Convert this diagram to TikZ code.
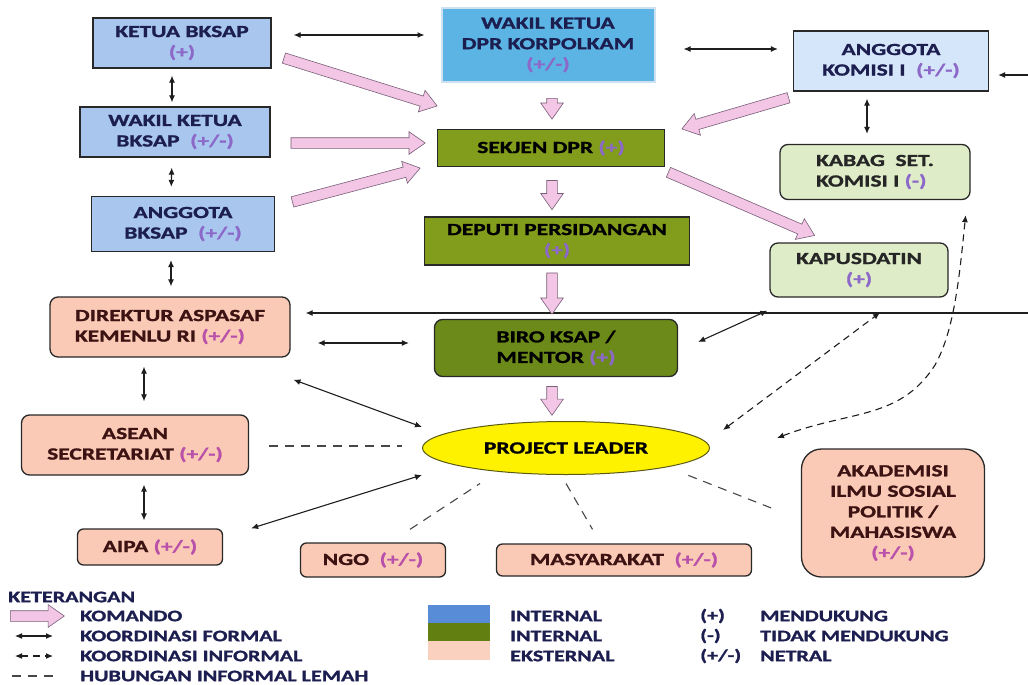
\documentclass[tikz,border=0pt]{standalone}
\usepackage{fontspec}
\setmainfont{Carlito}[FakeStretch=1.38, BoldFeatures={FakeBold=1.3}]
\usetikzlibrary{arrows.meta,shapes.geometric,shapes.arrows,calc}

\definecolor{bksapblue}{RGB}{168,198,238}
\definecolor{dprblue}{RGB}{92,180,228}
\definecolor{komisiblue}{RGB}{214,230,250}
\definecolor{dprolive}{RGB}{130,156,28}
\definecolor{biroolive}{RGB}{108,138,26}
\definecolor{softgreen}{RGB}{222,236,200}
\definecolor{peach}{RGB}{250,202,182}
\definecolor{komandopink}{RGB}{242,198,228}
\definecolor{navytext}{RGB}{28,30,80}
\definecolor{darkbrowntext}{RGB}{60,18,18}
\definecolor{signint}{RGB}{140,105,200}
\definecolor{signext}{RGB}{185,80,170}
\definecolor{legendblue}{RGB}{88,140,215}
\definecolor{legendgreen}{RGB}{98,128,18}
\definecolor{legendpeach}{RGB}{250,208,190}

\newcommand{\sgni}[1]{{\color{signint}#1}}
\newcommand{\sgne}[1]{{\color{signext}#1}}
% fat pink arrow from #1 to #2
\newcommand{\komando}[2]{%
  \path let \p1=(#1), \p2=(#2),
    \n1={atan2(\y2-\y1,\x2-\x1)}, \n2={veclen(\x2-\x1,\y2-\y1)} in
    node[komandoarrow, minimum height=\n2, rotate=\n1, anchor=tail] at (\p1) {};}

\begin{document}
\begin{tikzpicture}[x=1pt, y=-1pt,
  box/.style={draw={rgb,255:red,40;green,40;blue,40}, line width=1.3pt, inner sep=0pt,
    align=center, font=\fontsize{17}{20.5}\selectfont\bfseries},
  roundbox/.style={box, rounded corners=8pt},
  formal/.style={{Latex[length=7pt,width=6pt]}-{Latex[length=7pt,width=6pt]},
    line width=1.1pt, draw={rgb,255:red,30;green,30;blue,30}},
  oneway/.style={-{Latex[length=7pt,width=6pt]},
    line width=1.1pt, draw={rgb,255:red,30;green,30;blue,30}},
  informal/.style={formal, dash pattern=on 7pt off 5pt},
  weak/.style={line width=1.1pt, draw={rgb,255:red,70;green,70;blue,70}, dash pattern=on 9pt off 7pt},
  komandoarrow/.style={single arrow, draw={rgb,255:red,120;green,95;blue,120}, line width=0.6pt,
    fill=komandopink, inner xsep=0pt, inner ysep=5pt, single arrow head extend=6pt,
    single arrow tip angle=70},
  legendtext/.style={anchor=west, inner sep=0pt, font=\fontsize{16}{18}\selectfont\bfseries, text=navytext}]

  \fill[white] (0,0) rectangle (1028,685);
  \useasboundingbox (0,0) rectangle (1028,685);

  % nodes
  \node[box, fill=bksapblue, text=navytext, minimum width=178pt, minimum height=50pt] (ketua) at (182,43) {KETUA BKSAP\\\sgni{(+)}};
  \node[box, fill=bksapblue, text=navytext, minimum width=190pt, minimum height=50pt] (wakil) at (175,132) {WAKIL KETUA\\BKSAP ~\sgni{(+/-)}};
  \node[box, fill=bksapblue, text=navytext, minimum width=183pt, minimum height=55pt] (anggota) at (183,224) {ANGGOTA\\BKSAP ~\sgni{(+/-)}};
  \node[box, fill=dprblue, text=navytext, draw={rgb,255:red,205;green,225;blue,240}, line width=2pt, minimum width=213pt, minimum height=74pt] (wakildpr) at (548,45) {WAKIL KETUA\\DPR KORPOLKAM\\\sgni{(+/-)}};
  \node[box, fill=komisiblue, text=navytext, minimum width=195pt, minimum height=60pt] (komisi) at (891,61) {ANGGOTA\\KOMISI I ~\sgni{(+/-)}};
  \node[box, fill=dprolive, text=black, minimum width=227pt, minimum height=37pt] (sekjen) at (551,148) {SEKJEN DPR \sgni{(+)}};
  \node[roundbox, fill=softgreen, text=black!85, align=left, minimum width=190pt, minimum height=55pt] (kabag) at (875,172) {KABAG~ SET.\\KOMISI I \sgni{(-)}};
  \node[box, fill=dprolive, text=black, minimum width=265pt, minimum height=48pt] (deputi) at (557,241) {DEPUTI PERSIDANGAN\\\sgni{(+)}};
  \node[roundbox, fill=softgreen, text=black!85, minimum width=178pt, minimum height=54pt] (kapusdatin) at (859,270) {KAPUSDATIN\\\sgni{(+)}};
  \node[roundbox, fill=peach, text=darkbrowntext, align=left, minimum width=240pt, minimum height=60pt] (direktur) at (170,327) {DIREKTUR ASPASAF\\KEMENLU RI \sgne{(+/-)}};
  \node[roundbox, fill=biroolive, text=black, align=left, minimum width=243pt, minimum height=57pt] (biro) at (556,348) {BIRO KSAP /\\MENTOR \sgni{(+)}};
  \node[ellipse, draw={rgb,255:red,90;green,90;blue,20}, line width=1pt, fill=yellow, inner sep=0pt,
    minimum width=287pt, minimum height=53pt, font=\fontsize{17}{20.5}\selectfont\bfseries] (leader) at (566,448) {PROJECT LEADER};
  \node[roundbox, fill=peach, text=darkbrowntext, minimum width=227pt, minimum height=60pt] (asean) at (135,445) {ASEAN\\SECRETARIAT \sgne{(+/-)}};
  \node[roundbox, fill=peach, text=darkbrowntext, rounded corners=20pt, minimum width=183pt, minimum height=128pt] (akademisi) at (893,513) {AKADEMISI\\ILMU SOSIAL\\POLITIK /\\MAHASISWA\\\sgne{(+/-)}};
  \node[roundbox, fill=peach, text=darkbrowntext, rounded corners=6pt, minimum width=145pt, minimum height=36pt] (aipa) at (150,547) {AIPA \sgne{(+/-)}};
  \node[roundbox, fill=peach, text=darkbrowntext, rounded corners=6pt, minimum width=145pt, minimum height=34pt] (ngo) at (373,560) {NGO ~\sgne{(+/-)}};
  \node[roundbox, fill=peach, text=darkbrowntext, rounded corners=6pt, minimum width=255pt, minimum height=32pt] (masyarakat) at (624,560) {MASYARAKAT ~\sgne{(+/-)}};

  \coordinate (edgetop) at (1028,75);
  \coordinate (edgemid) at (1028,313);

  % koordinasi formal
  \draw[formal, shorten <=22pt, shorten >=16pt] ([yshift=8pt]ketua.east) -- ([yshift=10pt]wakildpr.west);
  \draw[formal, shorten <=28pt, shorten >=15pt] ([yshift=-4pt]wakildpr.east) -- ([yshift=12pt]komisi.east -| komisi.west);
  \draw[oneway, shorten >=9pt] (edgetop) -- ([yshift=-14pt]komisi.east);
  \draw[oneway, shorten >=15pt] (edgemid) -- ([yshift=14pt]direktur.east);
  \draw[formal, shorten <=7pt, shorten >=4pt] ([xshift=-10pt]ketua.south) -- ([xshift=-3pt]wakil.north);
  \draw[informal, shorten <=10pt, shorten >=9pt] ([xshift=-3pt]wakil.south) -- ([xshift=-12pt]anggota.north);
  \draw[formal, shorten <=8pt, shorten >=10pt] ([xshift=-12pt]anggota.south) -- ([xshift=1pt]direktur.north);
  \draw[formal, shorten <=9pt, shorten >=13pt] ([xshift=-26pt]direktur.south) -- ([xshift=9pt]asean.north);
  \draw[formal, shorten <=9pt, shorten >=8pt] ([xshift=9pt]asean.south) -- ([xshift=-6pt]aipa.north);
  \draw[formal, shorten <=27pt, shorten >=25pt] ([yshift=-16pt]direktur.east) -- ([yshift=5pt]biro.west);
  \draw[formal, shorten <=3pt] ([yshift=-21pt]direktur.south east) -- ([yshift=21pt]leader.west);
  \draw[formal] ([xshift=28pt]aipa.north east) -- ([yshift=-27pt]leader.west);
  \draw[formal, shorten <=7pt, shorten >=10pt] ([xshift=-24pt]komisi.south) -- ([xshift=-8pt]kabag.north);
  \draw[formal] ([xshift=20pt, yshift=6pt]biro.east) -- ([xshift=-2pt, yshift=-13pt]kapusdatin.south west);

  % koordinasi informal
  \draw[informal] ([xshift=13pt, yshift=18pt]leader.east) -- ([xshift=21pt, yshift=-15pt]kapusdatin.south);
  \draw[informal] ([xshift=67pt, yshift=10pt]leader.east) .. controls (850,410) and (900,420) .. (935,365)
    .. controls (955,330) and (960,270) .. ([xshift=-5pt, yshift=-15pt]kabag.south east);

  % hubungan informal lemah
  \draw[weak, shorten <=20pt, shorten >=20pt] ([yshift=-1pt]asean.east) -- ([yshift=2pt]leader.west);
  \draw[weak] ([xshift=37pt, yshift=13pt]ngo.north) -- ([xshift=-86pt, yshift=-8.5pt]leader.south);
  \draw[weak] ([yshift=-8.5pt]leader.south) -- ([xshift=-31.5pt, yshift=14pt]masyarakat.north);
  \draw[weak] ([xshift=20.5pt, yshift=-8.3pt]leader.south east) -- ([xshift=-24.5pt, yshift=3pt]akademisi.west);

  % komando
  \komando{$(ketua.east)+(12,15)$}{$(sekjen.north west)+(0,-23)$}
  \komando{$(wakil.east)+(20,11)$}{$(sekjen.west)+(-12,-5)$}
  \komando{$(anggota.east)+(17,-22)$}{$(sekjen.south west)+(-17,1)$}
  \komando{$(wakildpr.south)+(4,15)$}{$(sekjen.north)+(1,-10)$}
  \komando{$(sekjen.south)+(1,13)$}{$(deputi.north)+(-5,-7)$}
  \komando{$(deputi.south)+(-5,7)$}{$(biro.north)+(-4,-5)$}
  \komando{$(biro.south)+(-4,9)$}{$(leader.north)+(-14,-6)$}
  \komando{$(komisi.south west)+(-4,6)$}{$(sekjen.north east)+(17,0)$}
  \komando{$(sekjen.south east)+(3,5)$}{$(kapusdatin.north west)+(45,-7)$}

  % keterangan
  \node[legendtext] (ket) at (8,597) {KETERANGAN};
  \komando{10,616}{64,616}
  \node[legendtext] (lkomando) at (80,616) {KOMANDO};
  \draw[formal] (15,636) -- (53,636);
  \node[legendtext] (lformal) at (80,636) {KOORDINASI FORMAL};
  \draw[informal] (15,656) -- (53,656);
  \node[legendtext] (linformal) at (80,656) {KOORDINASI INFORMAL};
  \draw[weak] (12,676) -- (56,676);
  \node[legendtext] (llemah) at (80,676) {HUBUNGAN INFORMAL LEMAH};

  \fill[legendblue] (428,605) rectangle (490,623);
  \fill[legendgreen] (428,623) rectangle (490,641);
  \fill[legendpeach] (428,641) rectangle (490,660);
  \node[legendtext] (lint1) at (510,616) {INTERNAL};
  \node[legendtext] (lint2) at (510,636) {INTERNAL};
  \node[legendtext] (leks) at (510,656) {EKSTERNAL};

  \node[legendtext] (lplus) at (700,616) {(+)};
  \node[legendtext] (lminus) at (700,636) {(-)};
  \node[legendtext] (lnetral) at (700,656) {(+/-)};
  \node[legendtext] (ldukung) at (760,616) {MENDUKUNG};
  \node[legendtext] (ltidak) at (760,636) {TIDAK MENDUKUNG};
  \node[legendtext] (lnet) at (760,656) {NETRAL};
\end{tikzpicture}
\end{document}
